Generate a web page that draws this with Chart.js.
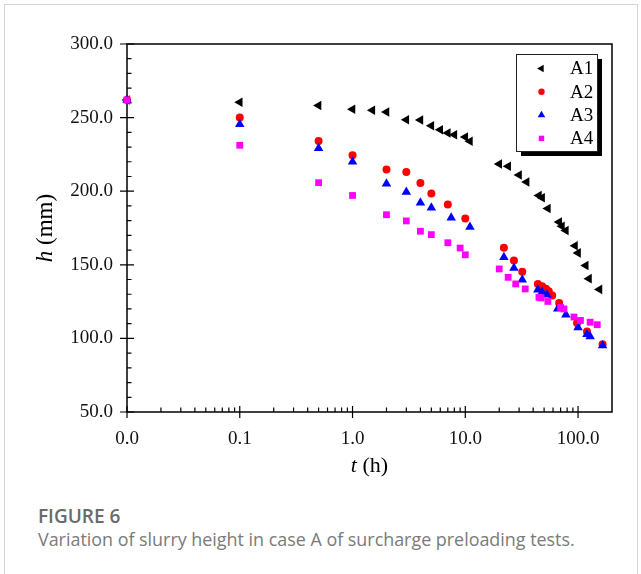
<!DOCTYPE html>
<html>
<head>
<meta charset="utf-8">
<script src="https://cdn.jsdelivr.net/npm/chart.js@4.4.1/dist/chart.umd.min.js"></script>
<style>
  body { margin: 0; background: #fff; }
  .card {
    position: absolute; left: 4px; top: 4px; width: 634px; height: 620px;
    border: 1px solid #d4d4d4; box-sizing: border-box;
  }
  #chart { position: absolute; left: 0; top: 0; }
  .fig {
    position: absolute; left: 38px; top: 507px; margin: 0;
    font: 600 19px/1 "Open Sans", sans-serif; color: #6a6a6a;
  }
  .cap {
    position: absolute; left: 38px; top: 531px; margin: 0;
    font: 400 17.9px/1 "Open Sans", sans-serif; color: #7a7a7a;
  }
</style>
</head>
<body>
<div class="card"></div>
<canvas id="chart" width="641" height="490"></canvas>
<p class="fig">FIGURE 6</p>
<p class="cap">Variation of slurry height in case A of surcharge preloading tests.</p>
<script>
// t = 0 plotted at 0.01 on the log axis
const a1Time = [0.01, 0.1, 0.5, 1, 1.5, 2, 3, 4, 5, 6, 7, 8, 10, 11, 20, 24, 30, 35, 45, 48, 54, 68, 72, 78, 94, 100, 117, 125, 155];
const a1Height = [262, 260.5, 258.2, 255.7, 255, 253.8, 248.6, 248.4, 244.5, 241.8, 239.6, 238.3, 236.8, 234, 218.5, 216.9, 211, 206.2, 197.1, 195.5, 188.3, 179, 176.2, 173.3, 162.9, 158.1, 149.5, 140.6, 133.3];

const a2Time = [0.01, 0.1, 0.5, 1, 2, 3, 4, 5, 7, 10, 22, 27, 32, 44, 48, 52, 55, 59, 68, 98, 120, 165];
const a2Height = [262, 250.1, 234.1, 224.4, 214.8, 213, 205.5, 198.5, 191, 181.5, 161.5, 152.9, 145.2, 137, 135.4, 133.8, 132, 129.2, 124, 110.4, 104.7, 96.1];

const a3Time = [0.01, 0.1, 0.5, 1, 2, 3, 4, 5, 7.5, 11, 22, 27, 32, 44, 48, 53, 66, 78, 100, 120, 128, 165];
const a3Height = [262, 245.5, 229.2, 220, 205.1, 199.4, 192.2, 188.8, 181.9, 175.6, 155.1, 147.9, 139.9, 133.1, 131.5, 129.7, 120.2, 116.1, 107.4, 102.9, 101.3, 95.2];

const a4Time = [0.01, 0.1, 0.5, 1, 2, 3, 4, 5, 7, 9, 10, 20, 24, 28, 34, 45, 47, 54, 70, 75, 92, 105, 128, 148];
const a4Height = [262, 231.2, 205.8, 197.1, 184, 179.8, 172.8, 170.5, 165, 161.4, 156.8, 147.2, 141.5, 137, 133.6, 127.9, 127.5, 125.1, 121, 120, 114.5, 112.2, 111, 109.3];

const xTickValues = [0.01, 0.1, 1, 10, 100];
const xTickLabels = ["0.0", "0.1", "1.0", "10.0", "100.0"];
const yTickValues = [50, 100, 150, 200, 250, 300];
const yTickLabels = ["50.0", "100.0", "150.0", "200.0", "250.0", "300.0"];

const SERIF = "'Liberation Serif', 'Times New Roman', serif";

function toPoints(ts, hs) {
  return ts.map((t, i) => ({ x: t, y: hs[i] }));
}

function drawParts(ctx, parts, size) {
  let w = 0;
  parts.forEach((p) => {
    ctx.font = (p.italic ? "italic " : "") + size + "px " + SERIF;
    w += ctx.measureText(p.text).width;
  });
  let x = -w / 2;
  parts.forEach((p) => {
    ctx.font = (p.italic ? "italic " : "") + size + "px " + SERIF;
    ctx.fillText(p.text, x, 0);
    x += ctx.measureText(p.text).width;
  });
}

const framePlugin = {
  id: "frame",
  beforeDatasetsDraw(chart) {
    const { ctx, chartArea: a, scales } = chart;
    const x = scales.x;
    const y = scales.y;
    ctx.save();
    ctx.strokeStyle = "#000";
    ctx.lineWidth = 1.5;
    ctx.strokeRect(a.left, a.top, a.right - a.left, a.bottom - a.top);

    ctx.lineWidth = 1.2;
    ctx.beginPath();
    xTickValues.forEach((v) => {
      const px = x.getPixelForValue(v);
      ctx.moveTo(px, a.bottom - 6);
      ctx.lineTo(px, a.bottom + 6);
    });
    xTickValues.forEach((d) => {
      for (let k = 2; k <= 9; k++) {
        const v = d * k;
        if (v >= x.max) break;
        const px = x.getPixelForValue(v);
        ctx.moveTo(px, a.bottom);
        ctx.lineTo(px, a.bottom - 4.5);
      }
    });
    yTickValues.forEach((v) => {
      const py = y.getPixelForValue(v);
      ctx.moveTo(a.left - 7, py);
      ctx.lineTo(a.left + 7, py);
    });
    for (let v = 60; v < 300; v += 10) {
      if (v % 50 === 0) continue;
      const py = y.getPixelForValue(v);
      ctx.moveTo(a.left, py);
      ctx.lineTo(a.left + 4.5, py);
    }
    ctx.stroke();

    // axis titles
    ctx.fillStyle = "#000";
    ctx.textBaseline = "alphabetic";
    ctx.save();
    ctx.translate((a.left + a.right) / 2, 472);
    drawParts(ctx, [{ text: "t", italic: true }, { text: " (h)" }], 22);
    ctx.restore();
    ctx.save();
    ctx.translate(52, (a.top + a.bottom) / 2);
    ctx.rotate(-Math.PI / 2);
    drawParts(ctx, [{ text: "h", italic: true }, { text: " (mm)" }], 23);
    ctx.restore();
    ctx.restore();
  },
  afterDatasetsDraw(chart) {
    const ctx = chart.ctx;
    const box = { left: 516, top: 54, w: 81, h: 97, shadow: 5 };
    ctx.save();
    ctx.fillStyle = "#000";
    ctx.fillRect(box.left + box.shadow, box.top + box.shadow, box.w, box.h);
    ctx.fillStyle = "#fff";
    ctx.fillRect(box.left, box.top, box.w, box.h);
    ctx.strokeStyle = "#222";
    ctx.lineWidth = 1;
    ctx.strokeRect(box.left + 0.5, box.top + 0.5, box.w, box.h);
    chart.data.datasets.forEach((ds, i) => {
      const cy = 68.5 + i * 23.3;
      ctx.fillStyle = ds.backgroundColor;
      ctx.strokeStyle = ds.borderColor;
      Chart.helpers.drawPoint(ctx, {
        pointStyle: ds.pointStyle,
        rotation: ds.rotation || 0,
        radius: ds.pointRadius * 0.8,
        borderWidth: 0,
      }, 541.5, cy);
      ctx.fillStyle = "#000";
      ctx.font = "19px " + SERIF;
      ctx.textBaseline = "middle";
      ctx.textAlign = "left";
      ctx.fillText(ds.label, 570, cy + 1);
    });
    ctx.restore();
  },
};

const ctx = document.getElementById("chart").getContext("2d");

new Chart(ctx, {
  type: "scatter",
  data: {
    datasets: [
      {
        label: "A1",
        data: toPoints(a1Time, a1Height),
        pointStyle: "triangle",
        rotation: -90,
        pointRadius: 5.5,
        backgroundColor: "#000",
        borderColor: "#000",
        borderWidth: 0,
        order: 3,
      },
      {
        label: "A2",
        data: toPoints(a2Time, a2Height),
        pointStyle: "circle",
        pointRadius: 4,
        backgroundColor: "#ff0000",
        borderColor: "#ff0000",
        borderWidth: 0,
        order: 2,
      },
      {
        label: "A3",
        data: toPoints(a3Time, a3Height),
        pointStyle: "triangle",
        pointRadius: 5.5,
        backgroundColor: "#0000ff",
        borderColor: "#0000ff",
        borderWidth: 0,
        order: 1,
      },
      {
        label: "A4",
        data: toPoints(a4Time, a4Height),
        pointStyle: "rect",
        pointRadius: 4.8,
        backgroundColor: "#ff00ff",
        borderColor: "#ff00ff",
        borderWidth: 0,
        order: 0,
      },
    ],
  },
  options: {
    responsive: false,
    animation: false,
    clip: false,
    layout: { padding: { left: 0, top: 44, right: 29, bottom: 0 } },
    scales: {
      x: {
        type: "logarithmic",
        min: 0.01,
        max: 200,
        afterBuildTicks: (scale) => {
          scale.ticks = xTickValues.map((v) => ({ value: v }));
        },
        afterFit: (scale) => {
          scale.height = 78;
        },
        ticks: {
          autoSkip: false,
          maxRotation: 0,
          padding: 16,
          color: "#111",
          font: { family: SERIF, size: 19 },
          callback: (v) => xTickLabels[xTickValues.indexOf(v)],
        },
        grid: { display: false, drawTicks: false },
        border: { display: false },
      },
      y: {
        min: 50,
        max: 300,
        afterBuildTicks: (scale) => {
          scale.ticks = yTickValues.map((v) => ({ value: v }));
        },
        afterFit: (scale) => {
          scale.width = 127;
        },
        ticks: {
          padding: 14,
          color: "#111",
          font: { family: SERIF, size: 19 },
          callback: (v) => yTickLabels[yTickValues.indexOf(v)],
        },
        grid: { display: false, drawTicks: false },
        border: { display: false },
      },
    },
    plugins: {
      legend: { display: false },
      tooltip: { enabled: false },
    },
  },
  plugins: [framePlugin],
});
</script>
</body>
</html>
